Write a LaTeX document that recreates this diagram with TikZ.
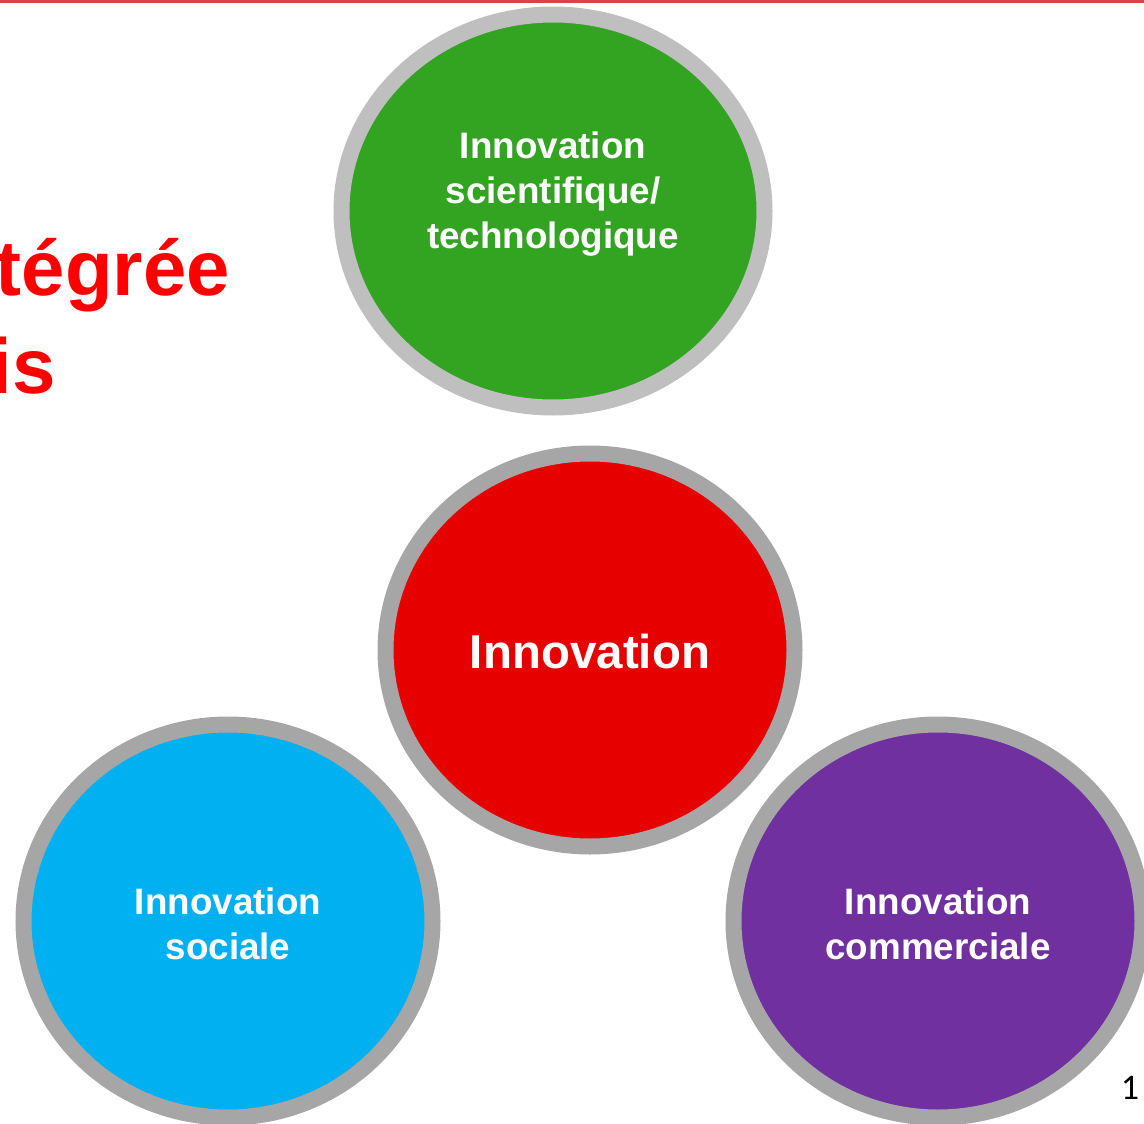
\documentclass[tikz,border=0pt]{standalone}
\usepackage{fontspec}
\setmainfont{Liberation Sans}
\newfontfamily\numfont{Carlito}
\usetikzlibrary{shapes.geometric}
\definecolor{topline}{RGB}{222,66,66}
\definecolor{titlered}{RGB}{255,0,0}
\definecolor{cgreen}{RGB}{51,163,34}
\definecolor{cred}{RGB}{230,0,0}
\definecolor{cblue}{RGB}{0,176,240}
\definecolor{cpurple}{RGB}{112,48,160}
\definecolor{lgray}{RGB}{191,191,191}
\definecolor{dgray}{RGB}{166,166,166}
\tikzset{
  bubble/.style={ellipse, inner sep=0pt, line width=16pt, minimum width=409pt, minimum height=393pt},
  btext/.style={text=white, font=\bfseries\fontsize{36.8}{45}\selectfont, align=center},
}
\begin{document}
\begin{tikzpicture}[x=1pt,y=-1pt]
\useasboundingbox (0,0) rectangle (1144,1124);
\clip (0,0) rectangle (1144,1124);
\fill[topline] (0,0) rectangle (1144,3);
% title fragments (cut off at the left edge, as in the slide)
\node[anchor=base east, inner sep=0pt, text=titlered, font=\bfseries\fontsize{78}{94}\selectfont] (t1) at (230,295) {tégrée};
\node[anchor=base east, inner sep=0pt, text=titlered, font=\bfseries\fontsize{78}{94}\selectfont] (t2) at (56,393) {is};
% bubbles
\node[bubble, draw=lgray, fill=cgreen, minimum width=423pt, minimum height=393pt] (g) at (553,211) {};
\node[btext] (gt) at (553,194) {Innovation\\scientifique/\\technologique};
\node[bubble, draw=dgray, fill=cred] (r) at (590,650) {};
\node[btext, font=\bfseries\fontsize{47.5}{57}\selectfont] (rt) at (590,652) {Innovation};
\node[bubble, draw=dgray, fill=cblue] (b) at (228,921) {};
\node[btext] (bt) at (228,924) {Innovation\\sociale};
\node[bubble, draw=dgray, fill=cpurple] (p) at (938,921) {};
\node[btext] (pt) at (938,924) {Innovation\\commerciale};
% page number
\node[anchor=base, inner sep=0pt, font=\numfont\fontsize{36}{40}\selectfont] (num) at (1130,1099) {1};
\end{tikzpicture}
\end{document}
